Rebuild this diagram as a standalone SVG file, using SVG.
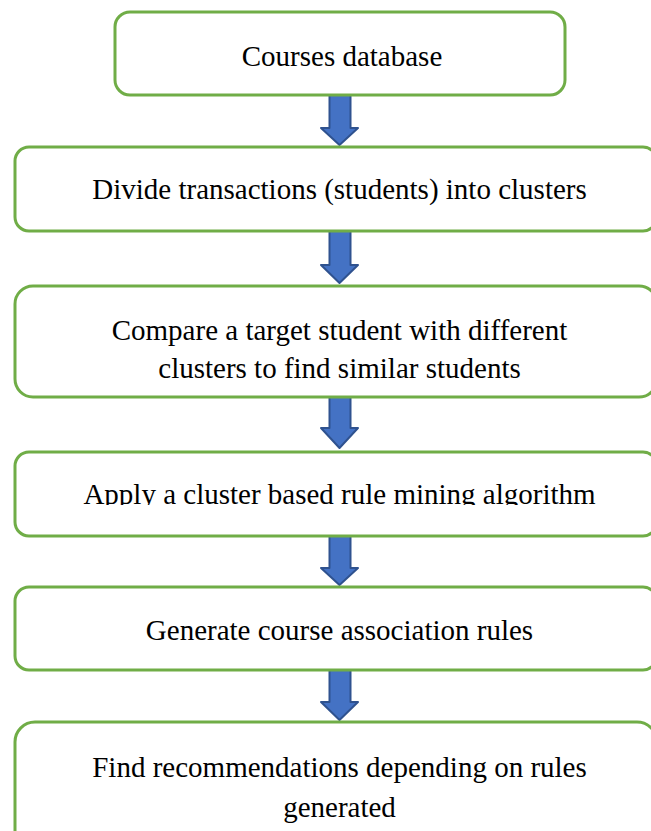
<svg xmlns="http://www.w3.org/2000/svg" width="651" height="831" viewBox="0 0 651 831">
  <style>
    .box { fill: #ffffff; stroke: #70AD47; stroke-width: 3; }
    .lbl { font-family: "Liberation Serif", "Times New Roman", serif; font-size: 29px; fill: #000000; text-anchor: middle; }
    .arr { fill: #4472C4; stroke: #2F528F; stroke-width: 2; stroke-linejoin: round; }
  </style>
  <defs>
    <clipPath id="clip4">
      <rect x="0" y="440" width="651" height="65"/>
    </clipPath>
  </defs>
  <rect x="0" y="0" width="651" height="831" fill="#ffffff"/>

  <g id="connectors">
    <path class="arr" d="M329.5,95 H350.5 V128 H358 L339.5,145 L321,128 H329.5 Z"/>
    <path class="arr" d="M329.5,231 H350.5 V265 H358 L339.5,283 L321,265 H329.5 Z"/>
    <path class="arr" d="M329.5,397 H350.5 V428 H358 L339.5,448 L321,428 H329.5 Z"/>
    <path class="arr" d="M329.5,536 H350.5 V568 H358 L339.5,585 L321,568 H329.5 Z"/>
    <path class="arr" d="M329.5,670 H350.5 V702 H358 L339.5,720 L321,702 H329.5 Z"/>
  </g>

  <g id="node1">
    <rect class="box" x="115" y="12" width="450" height="83" rx="15"/>
    <text class="lbl" x="342" y="66">Courses database</text>
  </g>
  <g id="node2">
    <rect class="box" x="15" y="147" width="642" height="84" rx="14"/>
    <text class="lbl" x="339.5" y="199">Divide transactions (students) into clusters</text>
  </g>
  <g id="node3">
    <rect class="box" x="15" y="286" width="642" height="111" rx="18"/>
    <text class="lbl" x="339.5" y="340">Compare a target student with different</text>
    <text class="lbl" x="339.5" y="378">clusters to find similar students</text>
  </g>
  <g id="node4">
    <rect class="box" x="15" y="452" width="642" height="84" rx="14"/>
    <text class="lbl" x="339.5" y="504" clip-path="url(#clip4)">Apply a cluster based rule mining algorithm</text>
  </g>
  <g id="node5">
    <rect class="box" x="15" y="587" width="642" height="83" rx="14"/>
    <text class="lbl" x="339.5" y="640">Generate course association rules</text>
  </g>
  <g id="node6">
    <rect class="box" x="15" y="722" width="642" height="130" rx="20"/>
    <text class="lbl" x="339.5" y="777">Find recommendations depending on rules</text>
    <text class="lbl" x="339.5" y="817">generated</text>
  </g>
</svg>
